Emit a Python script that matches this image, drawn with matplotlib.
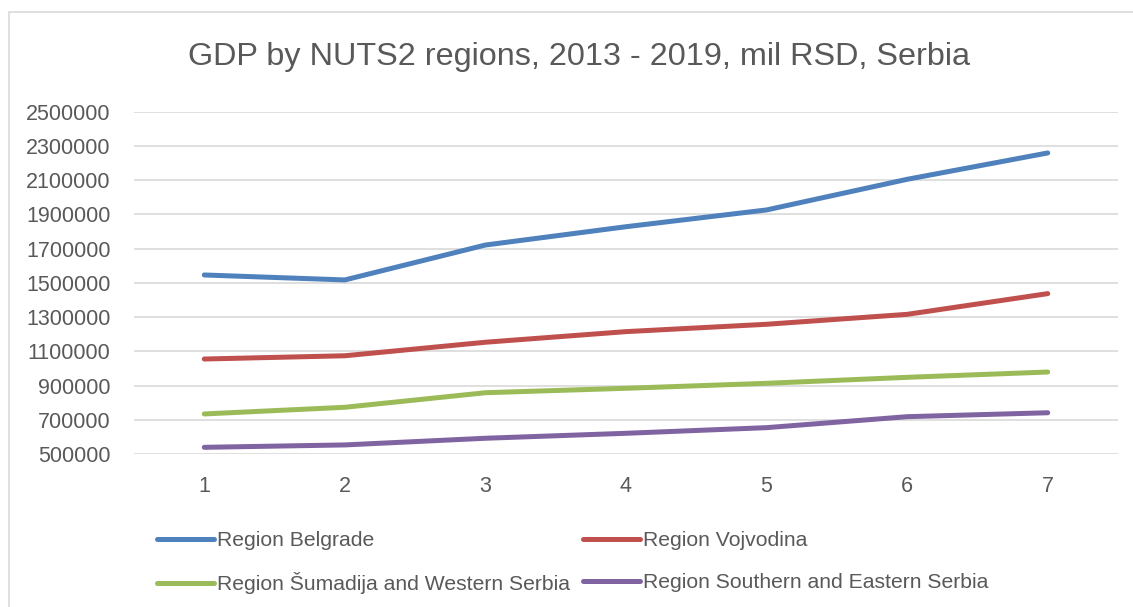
import matplotlib.pyplot as plt
import matplotlib.patches as mpatches
import numpy as np

plt.rcParams['font.family'] = ['Liberation Sans', 'DejaVu Sans']

## data
years = [1, 2, 3, 4, 5, 6, 7]
belgrade = [1546000, 1517000, 1721000, 1828000, 1926000, 2105000, 2259000]
vojvodina = [1055000, 1074000, 1153000, 1215000, 1258000, 1316000, 1437000]
sumadija = [734000, 773000, 858000, 884000, 913000, 948000, 979000]
southern = [539000, 553000, 592000, 621000, 654000, 718000, 741000]
names = ['Region Belgrade', 'Region Vojvodina',
         'Region Šumadija and Western Serbia', 'Region Southern and Eastern Serbia']
colors = ['#4F81BD', '#C0504D', '#9BBB59', '#8064A2']
yticks = np.arange(500000, 2500001, 200000)

fig = plt.figure(figsize=(11.33, 6.07), dpi=100)
ax = fig.add_axes([134/1133, 1-454/607, (1118-134)/1133, (454-111.7)/607])

## chart border
fig.patches.append(mpatches.Rectangle((9/1133, -0.05), 1.1, 1-12/607+0.05,
                   transform=fig.transFigure, fill=False, ec='#d9d9d9', lw=1.2))

lines = []
for vals, name, c in zip([belgrade, vojvodina, sumadija, southern], names, colors):
  l, = ax.plot(years, vals, color=c, lw=3.6, label=name,
               solid_capstyle='round', solid_joinstyle='round', zorder=3)
  lines.append(l)

ax.set_xlim(0.5, 7.5)
ax.set_ylim(500000, 2500000)
ax.set_yticks(yticks)
ax.set_yticklabels([str(v) for v in yticks])
ax.set_xticks(years)
ax.grid(axis='y', color='#d9d9d9', lw=1.2)
ax.set_axisbelow(True)
for s in ax.spines.values():
  s.set_visible(False)
ax.tick_params(axis='y', length=0, pad=17, labelsize=15.5, labelcolor='#595959')
ax.tick_params(axis='x', length=0, pad=16, labelsize=15.5, labelcolor='#595959')

fig.text(579/1133, 1-57/607, 'GDP by NUTS2 regions, 2013 - 2019, mil RSD, Serbia',
         ha='center', va='center', fontsize=23.3, color='#595959')

## legend, one entry at a time so the rows line up
spots = [(157, 541), (583, 541), (157, 583), (583, 583)]
for l, name, (px, py) in zip(lines, names, spots):
  fig.legend([l], [name], loc='center left', bbox_to_anchor=(px/1133, 1-py/607),
             frameon=False, fontsize=15.2, labelcolor='#595959', handlelength=2.7,
             handletextpad=0.15, borderpad=0, borderaxespad=0)

fig.savefig('out.png', dpi=100)
